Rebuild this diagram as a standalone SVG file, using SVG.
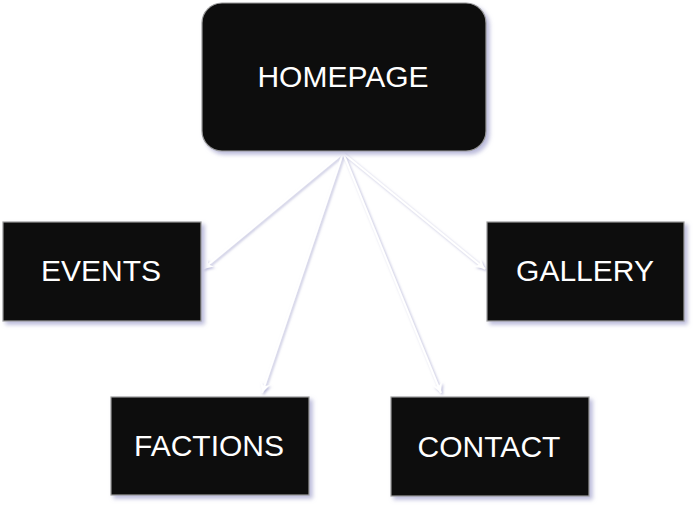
<svg xmlns="http://www.w3.org/2000/svg" width="697" height="508" viewBox="0 0 697 508">
<defs>
<filter id="sh" x="-10%" y="-10%" width="130%" height="130%">
<feDropShadow dx="3" dy="3" stdDeviation="2" flood-color="#a8a8d0" flood-opacity="0.8"/>
</filter>
<filter id="lsh" x="-20%" y="-20%" width="140%" height="140%">
<feDropShadow dx="1.5" dy="1.5" stdDeviation="1" flood-color="#a0a0cc" flood-opacity="0.7"/>
</filter>
<marker id="ah" markerWidth="12" markerHeight="10" refX="10" refY="5" orient="auto" markerUnits="userSpaceOnUse">
<path d="M0,0 L10,5 L0,10 L3,5 Z" fill="#ffffff"/>
</marker>
</defs>
<style>
.box{fill:#0e0e0e;stroke:#9a9a9a;stroke-width:1.2;filter:url(#sh)}
.lbl{font-family:"Liberation Sans",Arial,sans-serif;font-size:30px;fill:#ffffff;text-anchor:middle}
.con{stroke:#ffffff;stroke-width:2;fill:none;marker-end:url(#ah)}
</style>
<rect width="697" height="508" fill="#ffffff"/>
<g id="connectors" filter="url(#lsh)">
<line class="con" x1="343" y1="153" x2="203" y2="269"/>
<line class="con" x1="343" y1="153" x2="262" y2="393"/>
<line class="con" x1="343" y1="153" x2="441" y2="393"/>
<line class="con" x1="343" y1="153" x2="485" y2="269"/>
</g>
<g id="homepage">
<rect class="box" x="202" y="3" width="284" height="148" rx="20" ry="20"/>
<text class="lbl" x="343" y="87">HOMEPAGE</text>
</g>
<g id="events">
<rect class="box" x="3" y="222" width="198" height="99"/>
<text class="lbl" x="101" y="281">EVENTS</text>
</g>
<g id="gallery">
<rect class="box" x="487" y="222" width="197" height="99"/>
<text class="lbl" x="585" y="281">GALLERY</text>
</g>
<g id="factions">
<rect class="box" x="111" y="397" width="198" height="98"/>
<text class="lbl" x="209" y="456">FACTIONS</text>
</g>
<g id="contact">
<rect class="box" x="391" y="397" width="198" height="99"/>
<text class="lbl" x="489" y="457">CONTACT</text>
</g>
</svg>
